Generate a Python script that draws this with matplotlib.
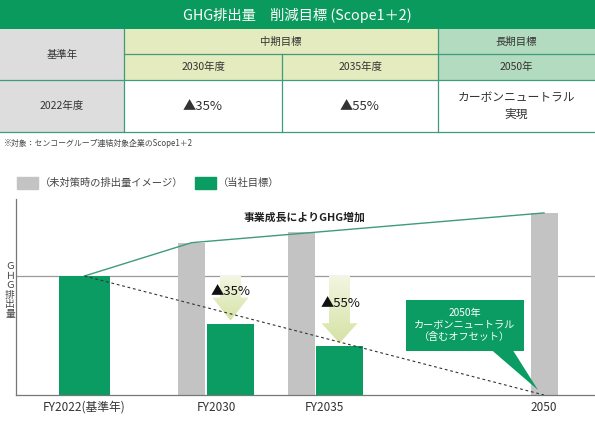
import matplotlib
matplotlib.use("Agg")
import matplotlib.pyplot as plt
from matplotlib.patches import Rectangle, FancyArrow, Polygon, Patch
from matplotlib.colors import LinearSegmentedColormap
import numpy as np

plt.rcParams['font.family'] = ['Noto Sans CJK JP', 'DejaVu Sans']

# ---- table data
table_title = "GHG排出量　削減目標 (Scope1＋2)"
base_hdr = "基準年"
mid_hdr = "中期目標"
long_hdr = "長期目標"
target_years = ["2030年度", "2035年度", "2050年"]
base_year = "2022年度"
reductions = ["▲35%", "▲55%", "カーボンニュートラル\n実現"]
note = "※対象：センコーグループ連結対象企業のScope1＋2"

# ---- chart data (base year = 100)
categories = ["FY2022(基準年)", "FY2030", "FY2035", "2050"]
target_vals = [100, 60, 41]          # FY2022, FY2030, FY2035
no_action_vals = [128, 137, 153]     # FY2030, FY2035, 2050
cut_labels = ["▲35%", "▲55%"]
trend_label = "事業成長によりGHG増加"
callout = "2050年\nカーボンニュートラル\n（含むオフセット）"
legend_labels = ["（未対策時の排出量イメージ）", "（当社目標）"]

GREEN = "#0a9c62"
HDR_GREEN = "#0b9a5d"
GREY = "#c3c3c3"
LINE = "#3f9b7a"
TXT = "#333333"

fig = plt.figure(figsize=(5.95, 4.25), dpi=100)

# overlay in pixel coords for table
ov = fig.add_axes([0, 0, 1, 1])
ov.set_xlim(0, 595)
ov.set_ylim(425, 0)
ov.axis("off")

cols = [0, 124, 282, 438, 595]
rows = [0, 29, 54, 80, 132]

ov.add_patch(Rectangle((0, rows[0]), 595, rows[1] - rows[0], color=HDR_GREEN, lw=0))
ov.add_patch(Rectangle((0, rows[1]), cols[1], rows[3] - rows[1], color="#dddddd", lw=0))
ov.add_patch(Rectangle((0, rows[3]), cols[1], rows[4] - rows[3], color="#dddddd", lw=0))
ov.add_patch(Rectangle((cols[1], rows[1]), cols[3] - cols[1], rows[3] - rows[1], color="#e4ebbf", lw=0))
ov.add_patch(Rectangle((cols[3], rows[1]), cols[4] - cols[3], rows[3] - rows[1], color="#b3dbbf", lw=0))

lw = 0.9
ov.plot([cols[1], cols[1]], [rows[1], rows[4]], color=LINE, lw=lw)
ov.plot([cols[3], cols[3]], [rows[1], rows[4]], color=LINE, lw=lw)
ov.plot([cols[2], cols[2]], [rows[2], rows[4]], color=LINE, lw=lw)
ov.plot([cols[1], 595], [rows[2], rows[2]], color=LINE, lw=lw)
ov.plot([0, 595], [rows[3], rows[3]], color=LINE, lw=lw)
ov.plot([0, 595], [rows[4], rows[4]], color=LINE, lw=lw)

ov.text(297, 15, table_title, color="white", fontsize=10.3, ha="center", va="center")
ov.text(62, 55, base_hdr, color=TXT, fontsize=7.5, ha="center", va="center")
ov.text((cols[1] + cols[3]) / 2, 42, mid_hdr, color=TXT, fontsize=7.5, ha="center", va="center")
ov.text((cols[3] + cols[4]) / 2, 42, long_hdr, color=TXT, fontsize=7.5, ha="center", va="center")
for i, t in enumerate(target_years):
    ov.text((cols[i + 1] + cols[i + 2]) / 2, 67, t, color=TXT, fontsize=7.5, ha="center", va="center")
ov.text(62, 106, base_year, color=TXT, fontsize=7.5, ha="center", va="center")
for i, t in enumerate(reductions):
    ov.text((cols[i + 1] + cols[i + 2]) / 2, 106, t, color=TXT,
            fontsize=9.5 if i < 2 else 8.5, ha="center", va="center", linespacing=1.3)
ov.text(4, 143, note, color="#444444", fontsize=5.7, ha="left", va="center")

# ---- chart
px_left, px_right, px_top, px_bottom = 16, 595, 199, 395
ax = fig.add_axes([px_left / 595, 1 - px_bottom / 425,
                   (px_right - px_left) / 595, (px_bottom - px_top) / 425])
ax.set_xlim(px_left, px_right)
y_per_px = 100 / 119
ax.set_ylim(0, (px_bottom - px_top) * y_per_px)
ax.set_facecolor("none")

green_x = [84.5, 230.5, 339.5]
green_w = [51, 47, 47]
grey_x = [191.5, 301, 544]
grey_w = 27
label_x = [84.5, 216, 324, 544]

ax.bar(grey_x, no_action_vals, width=grey_w, color=GREY, zorder=2)
ax.bar(green_x, target_vals, width=green_w, color=GREEN, zorder=3)

ax.axhline(target_vals[0], color="#9a9a9a", lw=0.9, zorder=1)

# growth line and reduction path
ax.plot([green_x[0], grey_x[0], grey_x[2]],
        [target_vals[0], no_action_vals[0], no_action_vals[2]],
        color=LINE, lw=1.0, zorder=4)
ax.plot([green_x[0], grey_x[2]], [target_vals[0], 0],
        color="#333333", lw=0.8, ls=(0, (2.5, 2.5)), zorder=4)

ax.text(305, 149, trend_label, fontsize=7.8, fontweight="bold", color="#222222",
        ha="center", va="center", zorder=5)

# reduction arrows with gradient
grad = np.linspace(0, 1, 100).reshape(-1, 1)
cm = LinearSegmentedColormap.from_list("arr", ["#d5e2a5", "#f3f6e2"])
head_px = [23, 20]
for i in range(2):
    x = green_x[i + 1]
    tip = target_vals[i + 1] + 2.5
    arr = FancyArrow(x, target_vals[0], 0, tip - target_vals[0], width=21,
                     head_width=36, head_length=head_px[i] * y_per_px,
                     length_includes_head=True, color="none", lw=0, zorder=3.5)
    ax.add_patch(arr)
    im = ax.imshow(grad, cmap=cm, aspect="auto", origin="lower",
                   extent=(x - 18, x + 18, tip, target_vals[0]), zorder=3.5)
    im.set_clip_path(arr)
ax.text(231, 86.6, cut_labels[0], fontsize=9.5, color="#111111", ha="center", va="center", zorder=6)
ax.text(341, 77.3, cut_labels[1], fontsize=9.5, color="#111111", ha="center", va="center", zorder=6)

# 2050 callout
ax.add_patch(Rectangle((406, 37), 118, 42.8, color=GREEN, lw=0, zorder=5))
ax.add_patch(Polygon([(492, 37.5), (513, 37.5), (538, 4.2)], closed=True, color=GREEN, lw=0, zorder=5))
ax.text(465, 58.5, callout, color="white", fontsize=7.3, ha="center", va="center",
        linespacing=1.25, zorder=6)

ax.set_xticks(label_x)
ax.set_xticklabels(categories, fontsize=8.5, color="#333333")
ax.tick_params(axis="x", length=0, pad=4)
ax.set_yticks([])
for s in ["top", "right"]:
    ax.spines[s].set_visible(False)
ax.spines["left"].set_color("#777777")
ax.spines["bottom"].set_color("#777777")
ax.spines["left"].set_linewidth(0.9)
ax.spines["bottom"].set_linewidth(0.9)

fig.text(10 / 595, 1 - 290 / 425, "Ｇ\nＨ\nＧ\n排\n出\n量", fontsize=7, color="#444444",
         ha="center", va="center", linespacing=0.95)

handles = [Patch(color=GREY), Patch(color=GREEN)]
fig.legend(handles, legend_labels, loc="center left", bbox_to_anchor=(17 / 595, 1 - 183 / 425),
           ncol=2, frameon=False, fontsize=7.4, handlelength=2.0, handleheight=1.45,
           handletextpad=0.2, columnspacing=1.2, borderpad=0, borderaxespad=0,
           labelcolor="#444444")

fig.savefig("out.png", dpi=100)
